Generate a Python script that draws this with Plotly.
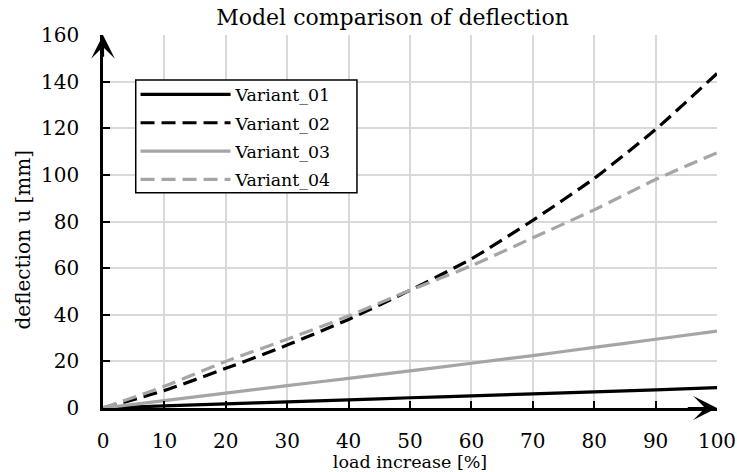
import plotly.graph_objects as go

load = [0, 10, 20, 30, 40, 50, 60, 70, 80, 90, 100]
variant_01 = [0, 0.9, 1.8, 2.6, 3.5, 4.4, 5.2, 6.1, 6.9, 7.8, 8.7]
variant_02 = [0, 7.5, 17, 27, 38, 50.5, 64, 80.5, 98.5, 119.5, 143.5]
variant_03 = [0, 3.2, 6.4, 9.6, 12.7, 15.9, 19.2, 22.5, 26.0, 29.5, 33.0]
variant_04 = [0, 9.3, 20, 29.5, 39.5, 50.5, 61, 73, 85, 98, 109.5]
names = ["Variant_01", "Variant_02", "Variant_03", "Variant_04"]
x_ticks = list(range(0, 101, 10))
y_ticks = list(range(0, 161, 20))

FONT = "DejaVu Serif"
GRAY = "#a5a5a5"

fig = go.Figure()
series = [variant_01, variant_02, variant_03, variant_04]
styles = [("black", "solid"), ("black", "14px,7px"), (GRAY, "solid"), (GRAY, "14px,7px")]
for name, ys, (c, d) in zip(names, series, styles):
    fig.add_trace(go.Scatter(x=load, y=ys, name=name, mode="lines", legendgroup=name,
                             line=dict(color=c, width=3.2, dash=d, shape="spline", smoothing=0.6)))

fig.update_layout(
    width=737, height=472,
    margin=dict(l=103, r=20, t=35, b=64, autoexpand=False),
    paper_bgcolor="white", plot_bgcolor="white",
    font=dict(family=FONT, color="black", size=20),
    title=dict(text="Model comparison of deflection", x=0.5326, xanchor="center",
               y=1 - 17 / 472, yanchor="middle", font=dict(size=22, family=FONT)),
    legend=dict(x=0.053, y=0.8884, xanchor="left", yanchor="top",
                borderwidth=0, bgcolor="rgba(0,0,0,0)",
                font=dict(size=17.4, family=FONT), itemwidth=90, tracegroupgap=2.7),
    xaxis=dict(range=[0, 100], tickvals=x_ticks, showgrid=True, gridcolor="#d9d9d9", gridwidth=1.5,
               showline=True, linecolor="black", linewidth=2.5, ticks="inside", ticklen=7,
               tickwidth=2, tickcolor="black", zeroline=False, ticklabelstandoff=13,
               tickfont=dict(size=20), automargin=False,
               title=dict(text="load increase [%]", font=dict(size=17.5), standoff=0)),
    yaxis=dict(range=[0, 160], tickvals=y_ticks, showgrid=True, gridcolor="#d9d9d9", gridwidth=1.5,
               showline=True, linecolor="black", linewidth=2.5, ticks="inside", ticklen=7,
               tickwidth=2, tickcolor="black", zeroline=False, ticklabelstandoff=17,
               tickfont=dict(size=20), automargin=False),
)

# y-axis title (placed as in the reference, slightly below the axis centre)
fig.add_annotation(text="deflection u [mm]", xref="paper", yref="paper", x=-0.1309, y=0.4508,
                   xanchor="center", yanchor="middle", textangle=-90, showarrow=False,
                   font=dict(size=20, family=FONT))

# legend frame (white box with black border, covering the grid)
fig.add_shape(type="rect", xref="paper", yref="paper", x0=0.0533, x1=0.4136, y0=0.5768, y1=0.8795,
              fillcolor="white", line=dict(color="black", width=1.5), layer="above")

# axis arrows
fig.add_annotation(x=0, y=160, ax=0, ay=150, xref="x", yref="y", axref="x", ayref="y",
                   showarrow=True, arrowhead=3, arrowsize=1.8, arrowwidth=2.2, arrowcolor="black", text="")
fig.add_annotation(x=100, y=0, ax=95, ay=0, xref="x", yref="y", axref="x", ayref="y",
                   showarrow=True, arrowhead=3, arrowsize=1.8, arrowwidth=2.2, arrowcolor="black", text="")

fig.write_html("out.html", config={"displayModeBar": False},
               post_script="document.body.style.margin='0';")
